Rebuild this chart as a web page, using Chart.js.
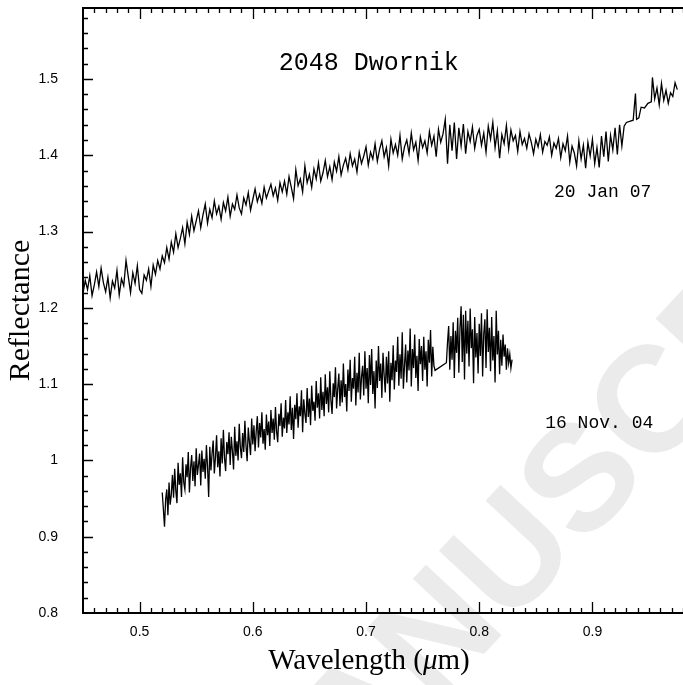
<!DOCTYPE html>
<html>
<head>
<meta charset="utf-8">
<script src="https://cdn.jsdelivr.net/npm/chart.js@4.4.1/dist/chart.umd.min.js"></script>
<style>
  html, body { margin: 0; padding: 0; background: #fff; }
  #wrap { width: 683px; height: 685px; position: relative; }
</style>
</head>
<body>
<div id="wrap"><canvas id="chart"></canvas></div>
<script>
// 20 Jan 07 spectrum (wavelength in nm, reflectance)
const janNm = [
  450,452,454,456,458,460,462,464,466,468,
  470,472,474,476,478,480,482,484,486,488,
  490,492,494,496,498,500,502,504,506,508,
  510,512,514,516,518,520,522,524,526,528,
  530,532,534,536,538,540,542,544,546,548,
  550,552,554,556,558,560,562,564,566,568,
  570,572,574,576,578,580,582,584,586,588,
  590,592,594,596,598,600,602,604,606,608,
  610,612,614,616,618,620,622,624,626,628,
  630,632,634,636,638,640,642,644,646,648,
  650,652,654,656,658,660,662,664,666,668,
  670,672,674,676,678,680,682,684,686,688,
  690,692,694,696,698,700,702,704,706,708,
  710,712,714,716,718,720,722,724,726,728,
  730,732,734,736,738,740,742,744,746,748,
  750,752,754,756,758,760,762,764,766,768,
  770,772,774,776,778,780,782,784,786,788,
  790,792,794,796,798,800,802,804,806,808,
  810,812,814,816,818,820,822,824,826,828,
  830,832,834,836,838,840,842,844,846,848,
  850,852,854,856,858,860,862,864,866,868,
  870,872,874,876,878,880,882,884,886,888,
  890,892,894,896,898,900,902,904,906,908,
  910,912,914,916,918,920,922,924,926,928,
  930,936,938,939,941,943,946,949,952,953,
  955,957,959,961,963,965,967,969,971,973,
  975
];
const janRefl = [
  1.219,1.236,1.224,1.242,1.216,1.230,1.247,1.228,1.252,1.233,
  1.221,1.240,1.213,1.235,1.226,1.249,1.217,1.238,1.229,1.262,
  1.241,1.220,1.246,1.232,1.255,1.224,1.219,1.243,1.236,1.251,
  1.228,1.256,1.244,1.262,1.251,1.268,1.259,1.279,1.264,1.286,
  1.273,1.297,1.279,1.291,1.305,1.284,1.312,1.296,1.320,1.301,
  1.314,1.327,1.305,1.322,1.336,1.311,1.329,1.318,1.340,1.323,
  1.333,1.316,1.338,1.327,1.345,1.320,1.336,1.329,1.348,1.331,
  1.323,1.344,1.335,1.351,1.328,1.342,1.356,1.339,1.349,1.337,
  1.358,1.344,1.353,1.362,1.347,1.357,1.341,1.364,1.352,1.366,
  1.349,1.372,1.358,1.343,1.381,1.360,1.369,1.352,1.386,1.364,
  1.375,1.358,1.382,1.369,1.390,1.366,1.377,1.393,1.372,1.385,
  1.368,1.391,1.379,1.398,1.374,1.387,1.396,1.381,1.402,1.386,
  1.395,1.378,1.404,1.389,1.399,1.411,1.387,1.404,1.395,1.415,
  1.392,1.408,1.419,1.398,1.410,1.386,1.421,1.403,1.414,1.400,
  1.426,1.395,1.411,1.420,1.402,1.429,1.407,1.417,1.393,1.424,
  1.410,1.419,1.403,1.431,1.413,1.425,1.398,1.434,1.417,1.428,
  1.447,1.389,1.440,1.406,1.443,1.395,1.436,1.412,1.441,1.402,
  1.431,1.418,1.437,1.409,1.426,1.434,1.413,1.429,1.404,1.438,
  1.421,1.443,1.410,1.432,1.396,1.427,1.415,1.439,1.408,1.433,
  1.419,1.426,1.405,1.431,1.414,1.422,1.409,1.428,1.417,1.402,
  1.421,1.411,1.427,1.404,1.418,1.413,1.424,1.400,1.416,1.409,
  1.422,1.397,1.415,1.406,1.425,1.391,1.412,1.403,1.386,1.419,
  1.395,1.413,1.383,1.417,1.399,1.421,1.389,1.410,1.384,1.425,
  1.398,1.431,1.392,1.426,1.407,1.436,1.401,1.440,1.412,1.438,
  1.443,1.446,1.481,1.447,1.449,1.463,1.462,1.468,1.470,1.502,
  1.474,1.488,1.466,1.494,1.472,1.485,1.468,1.482,1.477,1.495,
  1.486
];

// 16 Nov. 04 spectrum (gap between 761 and 771 nm)
const novNm = [
  520,521,522,523,524,525,526,527,528,529,
  530,531,532,533,534,535,536,537,538,539,
  540,541,542,543,544,545,546,547,548,549,
  550,551,552,553,554,555,556,557,558,559,
  560,561,562,563,564,565,566,567,568,569,
  570,571,572,573,574,575,576,577,578,579,
  580,581,582,583,584,585,586,587,588,589,
  590,591,592,593,594,595,596,597,598,599,
  600,601,602,603,604,605,606,607,608,609,
  610,611,612,613,614,615,616,617,618,619,
  620,621,622,623,624,625,626,627,628,629,
  630,631,632,633,634,635,636,637,638,639,
  640,641,642,643,644,645,646,647,648,649,
  650,651,652,653,654,655,656,657,658,659,
  660,661,662,663,664,665,666,667,668,669,
  670,671,672,673,674,675,676,677,678,679,
  680,681,682,683,684,685,686,687,688,689,
  690,691,692,693,694,695,696,697,698,699,
  700,701,702,703,704,705,706,707,708,709,
  710,711,712,713,714,715,716,717,718,719,
  720,721,722,723,724,725,726,727,728,729,
  730,731,732,733,734,735,736,737,738,739,
  740,741,742,743,744,745,746,747,748,749,
  750,751,752,753,754,755,756,757,758,759,
  760,761,
  771,772,773,774,775,776,777,778,779,
  780,781,782,783,784,785,786,787,788,789,
  790,791,792,793,794,795,796,797,798,799,
  800,801,802,803,804,805,806,807,808,809,
  810,811,812,813,814,815,816,817,818,819,
  820,821,822,823,824,825,826,827,828,829
];
const novRefl = [
  0.958,0.936,0.913,0.949,0.962,0.928,0.971,0.942,0.955,0.981,
  0.951,0.989,0.960,0.944,0.997,0.968,0.983,0.952,1.004,0.971,
  0.962,0.995,0.978,1.011,0.958,0.990,1.007,0.973,0.999,0.966,
  1.016,0.981,0.994,1.009,0.967,1.013,0.985,1.002,0.976,1.020,
  0.992,0.952,1.018,0.987,1.009,1.026,0.983,1.004,1.033,0.991,
  1.012,0.979,1.029,0.996,1.040,1.003,0.986,1.024,1.008,1.037,
  0.994,1.031,1.012,0.988,1.044,1.006,1.025,1.000,1.048,1.017,
  1.003,1.036,1.011,1.052,1.019,0.999,1.043,1.024,1.007,1.055,
  1.021,1.046,1.012,1.038,1.058,1.017,1.049,1.030,1.063,1.022,
  1.041,1.014,1.060,1.033,1.051,1.019,1.066,1.036,1.055,1.027,
  1.070,1.038,1.024,1.061,1.045,1.075,1.031,1.056,1.042,1.079,
  1.036,1.063,1.047,1.084,1.040,1.069,1.028,1.073,1.054,1.088,
  1.043,1.071,1.058,1.092,1.037,1.080,1.061,1.049,1.095,1.057,
  1.081,1.046,1.098,1.065,1.077,1.052,1.104,1.069,1.088,1.055,
  1.109,1.066,1.090,1.058,1.113,1.074,1.096,1.063,1.117,1.079,
  1.061,1.101,1.083,1.122,1.068,1.094,1.114,1.071,1.105,1.076,
  1.127,1.083,1.100,1.064,1.119,1.091,1.132,1.077,1.108,1.094,
  1.136,1.072,1.115,1.089,1.141,1.080,1.109,1.124,1.085,1.143,
  1.094,1.121,1.075,1.138,1.099,1.146,1.087,1.117,1.068,1.131,
  1.095,1.150,1.104,1.127,1.082,1.141,1.112,1.089,1.136,1.101,
  1.143,1.077,1.128,1.105,1.151,1.093,1.131,1.116,1.162,1.098,
  1.139,1.107,1.168,1.094,1.125,1.152,1.102,1.144,1.118,1.173,
  1.097,1.146,1.121,1.165,1.108,1.137,1.091,1.159,1.126,1.150,
  1.104,1.162,1.119,1.143,1.097,1.158,1.128,1.171,1.110,1.149,
  1.124,1.118,
  1.128,1.155,1.176,1.119,1.163,1.132,1.181,1.108,1.170,
  1.141,1.187,1.115,1.174,1.202,1.129,1.191,1.106,1.196,1.140,
  1.183,1.123,1.199,1.147,1.172,1.101,1.188,1.135,1.167,1.114,
  1.179,1.137,1.193,1.110,1.166,1.185,1.121,1.198,1.142,1.174,
  1.117,1.188,1.131,1.163,1.102,1.196,1.139,1.170,1.113,1.158,
  1.124,1.165,1.136,1.152,1.119,1.147,1.128,1.139,1.121,1.132
];

const xTickValues = [0.5, 0.6, 0.7, 0.8, 0.9];
const xTickLabels = ['0.5', '0.6', '0.7', '0.8', '0.9'];
const yTickValues = [0.8, 0.9, 1.0, 1.1, 1.2, 1.3, 1.4, 1.5];
const yTickLabels = ['0.8', '0.9', '1', '1.1', '1.2', '1.3', '1.4', '1.5'];

// text labels placed in data coordinates
const notes = [
  { text: '2048 Dwornik', x: 0.7025, y: 1.521, size: 25 },
  { text: '20 Jan 07', x: 0.909, y: 1.352, size: 18 },
  { text: '16 Nov. 04', x: 0.906, y: 1.049, size: 18 }
];

const toPoints = (nm, r) => nm.map((w, i) => ({ x: w / 1000, y: r[i] }));

// faint diagonal "ACCEPTED MANUSCRIPT" stamp behind everything
const stampPlugin = {
  id: 'stamp',
  beforeDraw(chart) {
    const ctx = chart.ctx;
    ctx.save();
    ctx.fillStyle = '#ebebeb';
    ctx.font = 'bold 150px "Liberation Sans", Arial, sans-serif';
    ctx.textBaseline = 'middle';
    const pre = ctx.measureText('ACCEPTED MAN').width;
    const u = ctx.measureText('U').width;
    ctx.translate(515, 560);
    ctx.rotate(-47 * Math.PI / 180);
    ctx.fillText('ACCEPTED MANUSCRIPT', -(pre + u / 2), 0);
    ctx.restore();
  }
};

// frame (left, top, bottom), inward ticks, tick labels, axis title and notes
const framePlugin = {
  id: 'frame',
  afterDatasetsDraw(chart) {
    const { ctx, chartArea: a, scales: { x, y } } = chart;
    ctx.save();
    ctx.strokeStyle = '#000';
    ctx.lineWidth = 2;
    ctx.beginPath();
    ctx.moveTo(a.right + 2, a.top);
    ctx.lineTo(a.left, a.top);
    ctx.lineTo(a.left, a.bottom);
    ctx.lineTo(a.right + 2, a.bottom);
    ctx.stroke();

    ctx.lineWidth = 1.3;
    ctx.beginPath();
    for (let i = 46; i <= 98; i++) {
      const px = Math.round(x.getPixelForValue(i / 100)) + 0.5;
      const len = i % 10 === 0 ? 11 : 5;
      ctx.moveTo(px, a.bottom); ctx.lineTo(px, a.bottom - len);
      ctx.moveTo(px, a.top); ctx.lineTo(px, a.top + len);
    }
    for (let i = 41; i <= 79; i++) {
      const py = Math.round(y.getPixelForValue(i * 0.02)) + 0.5;
      const len = i % 5 === 0 ? 10 : 5;
      ctx.moveTo(a.left, py); ctx.lineTo(a.left + len, py);
    }
    ctx.stroke();

    ctx.fillStyle = '#000';
    ctx.font = '14px "Liberation Sans", Arial, sans-serif';
    ctx.textAlign = 'center';
    ctx.textBaseline = 'top';
    xTickValues.forEach((v, i) => ctx.fillText(xTickLabels[i], x.getPixelForValue(v), a.bottom + 12));
    ctx.textAlign = 'right';
    ctx.textBaseline = 'middle';
    yTickValues.forEach((v, i) => ctx.fillText(yTickLabels[i], a.left - 25, y.getPixelForValue(v)));

    // x-axis title with an italic mu
    const serif = '"Liberation Serif", "Times New Roman", serif';
    const parts = [['Wavelength (', ''], ['\u03bc', 'italic '], ['m)', '']];
    let total = 0;
    parts.forEach(p => { ctx.font = p[1] + '29px ' + serif; total += ctx.measureText(p[0]).width; });
    let cx = 369 - total / 2;
    ctx.textAlign = 'left';
    parts.forEach(p => {
      ctx.font = p[1] + '29px ' + serif;
      ctx.fillText(p[0], cx, 661);
      cx += ctx.measureText(p[0]).width;
    });

    ctx.textAlign = 'center';
    notes.forEach(n => {
      ctx.font = n.size + 'px "Liberation Mono", "Courier New", monospace';
      ctx.fillText(n.text, x.getPixelForValue(n.x), y.getPixelForValue(n.y));
    });
    ctx.restore();
  }
};

const lineStyle = { borderColor: '#000', borderWidth: 1.3, pointRadius: 0, tension: 0, fill: false };

new Chart(document.getElementById('chart'), {
  type: 'line',
  data: {
    datasets: [
      { label: '20 Jan 07', data: toPoints(janNm, janRefl), ...lineStyle },
      { label: '16 Nov. 04', data: toPoints(novNm, novRefl), ...lineStyle }
    ]
  },
  options: {
    responsive: true,
    maintainAspectRatio: false,
    animation: false,
    devicePixelRatio: 1,
    layout: { padding: { top: 8, right: 0, left: 0, bottom: 0 } },
    plugins: { legend: { display: false }, tooltip: { enabled: false } },
    scales: {
      x: {
        type: 'linear',
        min: 0.45,
        max: 0.98,
        grid: { display: false, drawTicks: false },
        border: { display: false },
        ticks: { display: false },
        afterFit: s => { s.height = 72; }
      },
      y: {
        type: 'linear',
        min: 0.8,
        max: 1.593,
        grid: { display: false, drawTicks: false },
        border: { display: false },
        ticks: { display: false },
        afterFit: s => { s.width = 83; },
        title: {
          display: true,
          text: 'Reflectance',
          color: '#000',
          font: { family: '"Liberation Serif", "Times New Roman", serif', size: 30 },
          padding: { top: 3, bottom: 0 }
        }
      }
    }
  },
  plugins: [stampPlugin, framePlugin]
});
</script>
</body>
</html>
